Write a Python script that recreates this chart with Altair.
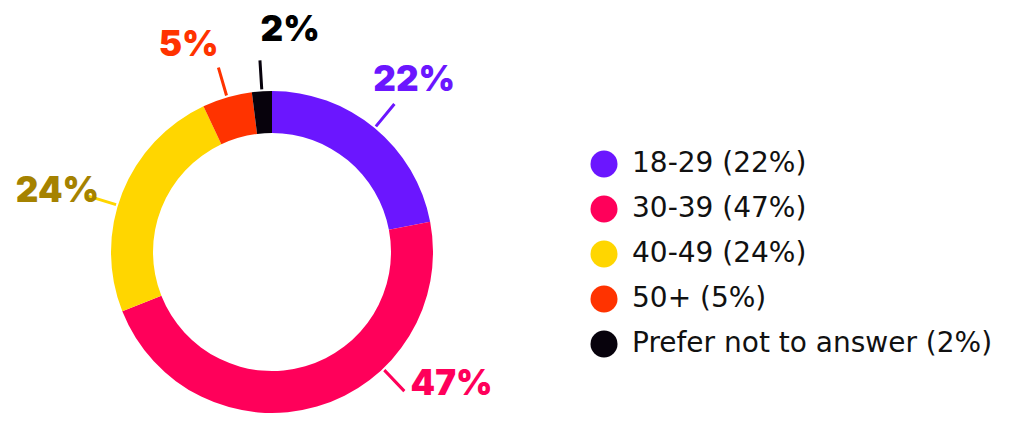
import math
import altair as alt
import pandas as pd

# ---- data ----
categories = ["18-29", "30-39", "40-49", "50+", "Prefer not to answer"]
shares = [22, 47, 24, 5, 2]
ring_colors = ["#6B16FF", "#FF005A", "#FFD600", "#FF3300", "#07020C"]
label_colors = ["#6B16FF", "#FF005A", "#A58200", "#FF3300", "#000000"]

# ---- layout nudges (in percent-of-circle units) ----
label_nudge = {"22-29": 0, "30-39": -10.4, "40-49": -1.6, "50+": -1.6, "Prefer not to answer": 2.3}
leader_nudge = {"30-39": -7.6, "40-49": -1.3}

legend_labels = [f"{c} ({s}%)" for c, s in zip(categories, shares)]

df = pd.DataFrame({
    "category": categories,
    "share": shares,
    "order": list(range(len(categories))),
    "legend": legend_labels,
    "label_color": label_colors,
})


def nudge_expr(d):
    expr = "0"
    for k, v in d.items():
        expr = f"datum.category === '{k}' ? {v} : ({expr})"
    return expr


CX, CY = 264, 244
theta_scale = alt.Scale(domain=[0, 100], range=[0, 2 * math.pi])
color_scale = alt.Scale(domain=legend_labels, range=ring_colors)

base = alt.Chart(df).transform_window(
    cum="sum(share)", sort=[alt.SortField("order")],
    frame=[None, 0]
).transform_calculate(
    mid="datum.cum - datum.share / 2"
).transform_calculate(
    lab="datum.mid + (" + nudge_expr(label_nudge) + ")",
    lead="datum.mid + (" + nudge_expr(leader_nudge) + ")",
    pct="datum.share + '%'",
)

ring = alt.Chart(df).mark_arc(outerRadius=161, innerRadius=119, strokeWidth=0).encode(
    theta=alt.Theta("share:Q", stack=True, scale=theta_scale),
    order=alt.Order("order:Q"),
    color=alt.Color("legend:N", scale=color_scale,
                    legend=alt.Legend(title=None, orient="none", legendX=582, legendY=142)),
    x=alt.value(CX), y=alt.value(CY),
)

leaders = base.mark_arc(filled=False, strokeWidth=3).encode(
    theta=alt.Theta("lead:Q", stack=False, scale=theta_scale),
    theta2="lead:Q",
    radius=alt.value(192), radius2=alt.value(163),
    color=alt.Color("legend:N", scale=color_scale, legend=None),
    x=alt.value(CX), y=alt.value(CY),
)

labels = base.mark_text(font="Inter", fontWeight=900, fontSize=35,
                        align="center", baseline="middle").encode(
    theta=alt.Theta("lab:Q", stack=False, scale=theta_scale),
    radius=alt.value(223),
    text="pct:N",
    color=alt.Color("label_color:N", scale=None),
    x=alt.value(CX), y=alt.value(CY),
)

chart = alt.layer(ring, leaders, labels).properties(
    width=1008, height=424, padding=0, autosize=alt.AutoSizeParams(type="none"),
    background="white",
).configure_view(stroke=None).configure_legend(
    symbolType="circle", symbolSize=729, symbolStrokeWidth=0,
    labelFont="DejaVu Sans", labelFontSize=28, labelColor="#111111",
    labelOffset=14, rowPadding=17, padding=0, labelLimit=0,
)

chart.save("out.html", embed_options={"renderer": "svg", "actions": False})
